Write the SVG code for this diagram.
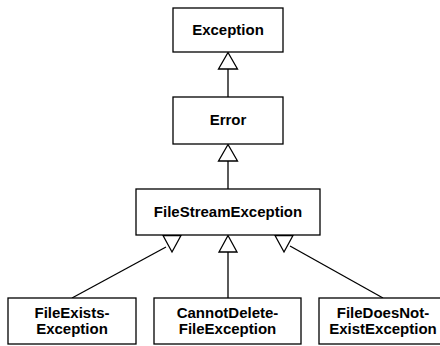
<svg xmlns="http://www.w3.org/2000/svg" width="440" height="346" viewBox="0 0 440 346">
<style>
.box{fill:#fff;stroke:#000;stroke-width:1.3}
.t{font-family:"Liberation Sans",Arial,sans-serif;font-weight:bold;font-size:15px;text-anchor:middle;fill:#000}
.ln{stroke:#000;stroke-width:1.3;fill:none}
.tri{fill:#fff;stroke:#000;stroke-width:1.3;stroke-linejoin:miter}
</style>
<rect width="440" height="346" fill="#fff"/>
<g id="connectors">
<line class="ln" x1="228" y1="69" x2="228" y2="97"/>
<polygon class="tri" points="228,52.5 218.5,69 237.5,69"/>
<line class="ln" x1="228" y1="161" x2="228" y2="189"/>
<polygon class="tri" points="228,144.5 218.5,161 237.5,161"/>
<line class="ln" x1="228" y1="252" x2="228" y2="298"/>
<polygon class="tri" points="228,235.5 219,252 237,252"/>
<line class="ln" x1="72" y1="298" x2="166" y2="247"/>
<polygon class="tri" points="163,235.5 181,235.5 172,252"/>
<line class="ln" x1="290" y1="246" x2="383" y2="298"/>
<polygon class="tri" points="275,235.5 293,235.5 284,252"/>
</g>
<g id="exception">
<rect class="box" x="173" y="8" width="110" height="44"/>
<text class="t" x="228" y="34.5">Exception</text>
</g>
<g id="error">
<rect class="box" x="173" y="97" width="110" height="47"/>
<text class="t" x="228" y="125">Error</text>
</g>
<g id="filestreamexception">
<rect class="box" x="136" y="189" width="184" height="46"/>
<text class="t" x="228" y="216.5">FileStreamException</text>
</g>
<g id="fileexistsexception">
<rect class="box" x="8" y="298" width="128" height="46"/>
<text class="t" x="72" y="318">FileExists-</text>
<text class="t" x="72" y="334">Exception</text>
</g>
<g id="cannotdeletefileexception">
<rect class="box" x="154" y="298" width="147" height="46"/>
<text class="t" x="227.5" y="318">CannotDelete-</text>
<text class="t" x="227.5" y="334">FileException</text>
</g>
<g id="filedoesnotexistexception">
<rect class="box" x="319" y="298" width="128" height="46"/>
<text class="t" x="383" y="318">FileDoesNot-</text>
<text class="t" x="383" y="334">ExistException</text>
</g>
</svg>
